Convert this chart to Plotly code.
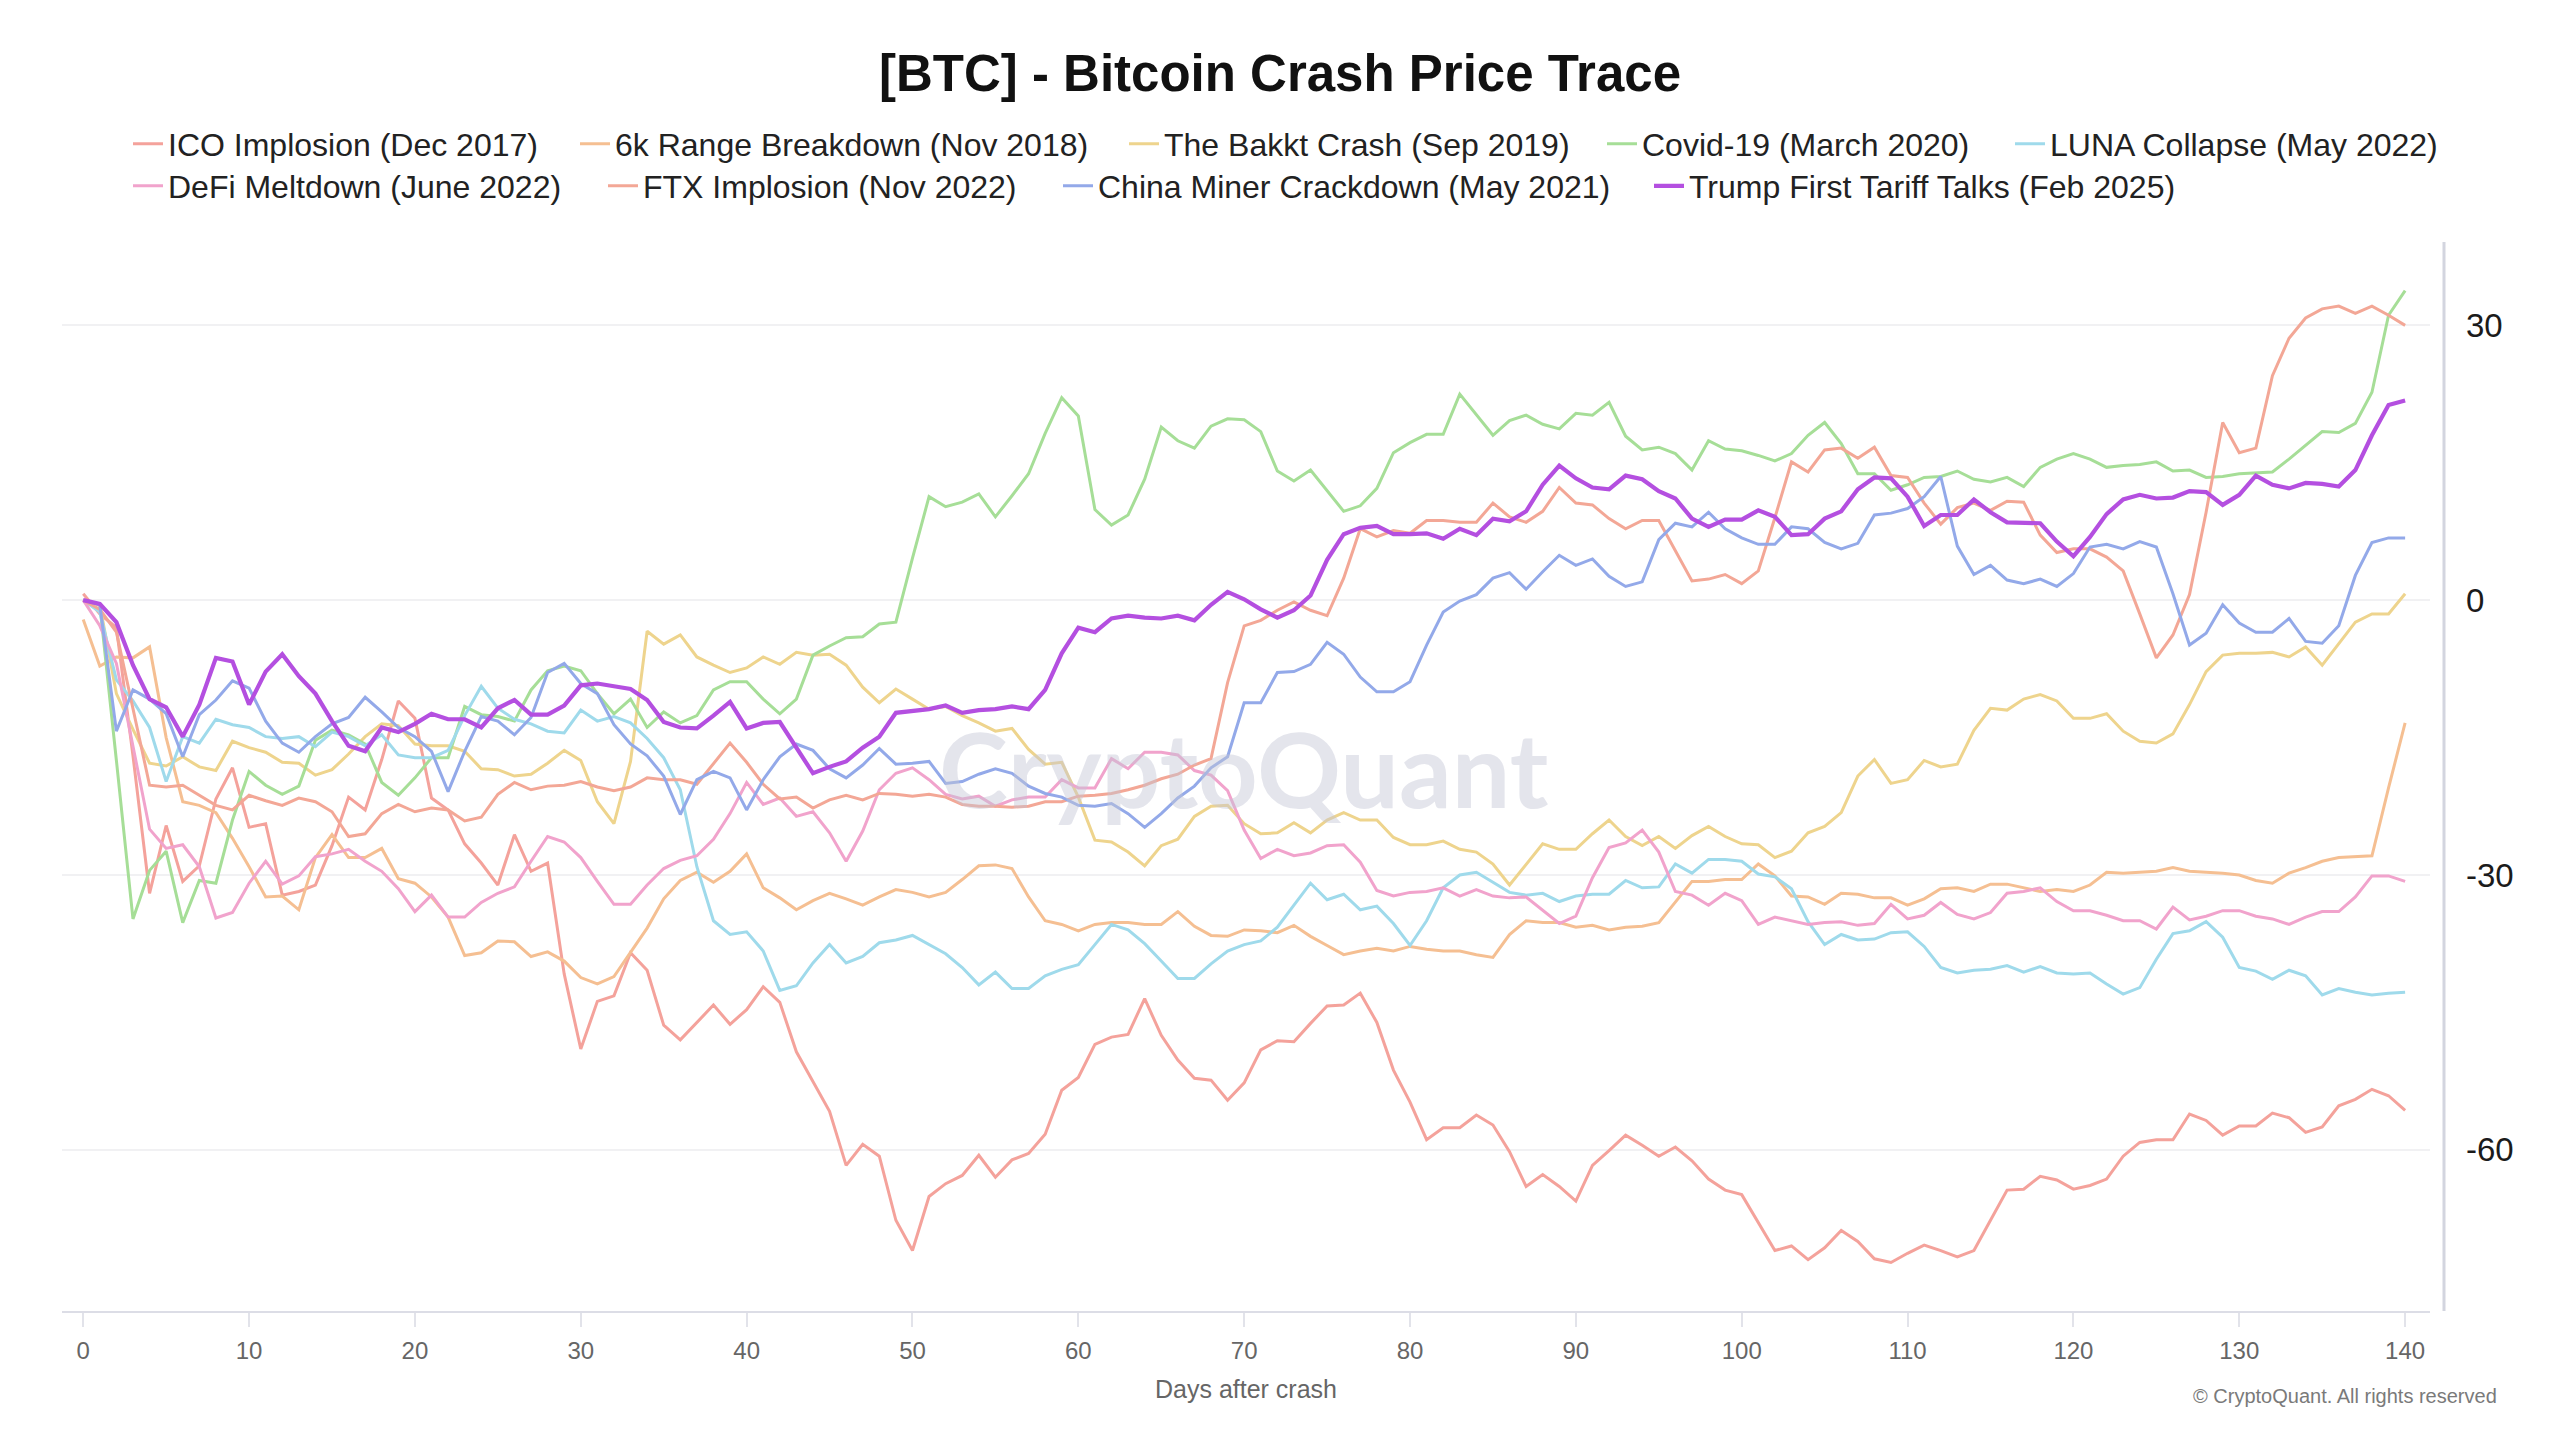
import plotly.graph_objects as go

days = list(range(0, 141))

ico = [0.7, -1.5, -3.0, -17.0, -32.0, -24.6, -30.7, -29.0, -21.7, -18.3,
       -24.8, -24.4, -32.2, -31.8, -31.1, -26.8, -21.5, -22.9, -17.4, -11.0,
       -12.9, -21.6, -22.9, -26.6, -28.7, -31.1, -25.6, -29.6, -28.7, -40.8,
       -49.0, -43.8, -43.2, -38.5, -40.4, -46.4, -48.0, -46.1, -44.2, -46.3,
       -44.7, -42.2, -43.9, -49.3, -52.5, -55.8, -61.7, -59.4, -60.7, -67.7,
       -71.0, -65.1, -63.7, -62.8, -60.6, -63.0, -61.1, -60.4, -58.3, -53.5,
       -52.1, -48.5, -47.7, -47.4, -43.5, -47.5, -50.2, -52.2, -52.4, -54.6,
       -52.7, -49.1, -48.1, -48.2, -46.2, -44.3, -44.2, -42.9, -46.1, -51.3,
       -54.8, -58.9, -57.6, -57.6, -56.2, -57.3, -60.2, -64.0, -62.7, -64.0,
       -65.6, -61.7, -60.1, -58.4, -59.5, -60.7, -59.7, -61.2, -63.2, -64.4,
       -64.9, -67.9, -71.0, -70.5, -72.0, -70.7, -68.8, -70.0, -71.9, -72.3,
       -71.3, -70.4, -71.0, -71.7, -71.0, -67.7, -64.4, -64.3, -62.9, -63.3,
       -64.3, -63.9, -63.2, -60.7, -59.2, -58.9, -58.9, -56.1, -56.8, -58.4,
       -57.4, -57.4, -56.0, -56.5, -58.1, -57.5, -55.2, -54.5, -53.4, -54.1,
       -55.7]

range6k = [-2.1, -7.2, -6.2, -6.3, -5.1, -15.0, -22.0, -22.4, -23.2, -26.0,
           -29.1, -32.4, -32.3, -33.8, -28.1, -25.6, -28.1, -28.1, -27.1, -30.4,
           -30.9, -32.4, -34.6, -38.8, -38.5, -37.2, -37.3, -38.9, -38.4, -39.4,
           -41.2, -41.9, -41.1, -38.5, -35.8, -32.6, -30.6, -29.7, -30.8, -29.6,
           -27.7, -31.4, -32.5, -33.8, -32.8, -32.0, -32.6, -33.3, -32.4, -31.6,
           -31.9, -32.4, -31.9, -30.5, -29.0, -28.9, -29.3, -32.4, -35.0, -35.4,
           -36.1, -35.4, -35.2, -35.2, -35.4, -35.4, -34.0, -35.6, -36.6, -36.7,
           -36.0, -36.1, -36.3, -35.5, -36.7, -37.7, -38.7, -38.3, -38.0, -38.3,
           -37.8, -38.1, -38.3, -38.3, -38.7, -39.0, -36.5, -35.0, -35.2, -35.2,
           -35.7, -35.5, -36.0, -35.7, -35.6, -35.2, -33.0, -30.7, -30.7, -30.5,
           -30.5, -28.8, -30.1, -32.3, -32.4, -33.2, -32.0, -32.1, -32.5, -32.5,
           -33.3, -32.6, -31.5, -31.4, -31.8, -31.0, -31.0, -31.4, -31.8, -31.6,
           -31.8, -31.1, -29.7, -29.8, -29.7, -29.6, -29.2, -29.6, -29.7, -29.8,
           -30.0, -30.6, -30.9, -29.8, -29.2, -28.5, -28.1, -28.0, -27.9, -20.5,
           -13.4]

bakkt = [0.0, -0.5, -10.2, -14.1, -17.8, -18.1, -17.1, -18.2, -18.6, -15.4,
         -16.1, -16.6, -17.7, -17.8, -19.1, -18.5, -16.8, -14.9, -13.5, -13.7,
         -15.7, -15.9, -15.9, -16.5, -18.4, -18.5, -19.2, -19.0, -17.8, -16.4,
         -17.5, -22.0, -24.4, -17.6, -3.4, -4.8, -3.8, -6.2, -7.1, -7.9,
         -7.4, -6.2, -7.0, -5.7, -6.0, -5.9, -7.1, -9.5, -11.2, -9.7,
         -10.8, -11.9, -11.6, -12.6, -13.4, -14.3, -14.0, -16.3, -17.9, -17.7,
         -21.5, -26.2, -26.4, -27.5, -29.0, -26.8, -26.1, -23.6, -22.5, -22.4,
         -24.4, -25.5, -25.4, -24.3, -25.4, -24.0, -23.2, -24.0, -24.0, -25.9,
         -26.7, -26.7, -26.3, -27.2, -27.5, -28.8, -31.1, -28.9, -26.6, -27.2,
         -27.2, -25.5, -24.0, -25.8, -26.8, -25.8, -27.1, -25.7, -24.7, -25.8,
         -26.6, -26.7, -28.1, -27.4, -25.4, -24.7, -23.2, -19.2, -17.4, -20.0,
         -19.6, -17.5, -18.2, -17.9, -14.2, -11.8, -12.0, -10.8, -10.3, -11.0,
         -12.9, -12.9, -12.4, -14.3, -15.4, -15.6, -14.6, -11.4, -7.8, -6.0,
         -5.8, -5.8, -5.7, -6.2, -5.1, -7.1, -4.7, -2.4, -1.5, -1.5,
         0.7]

covid = [0.0, -0.5, -17.5, -34.8, -29.5, -27.4, -35.2, -30.6, -30.9, -24.0,
         -18.7, -20.2, -21.2, -20.3, -15.3, -14.2, -14.7, -15.7, -19.9, -21.3,
         -19.4, -17.2, -17.2, -11.6, -12.5, -12.7, -13.2, -9.8, -7.7, -7.2,
         -7.7, -10.2, -12.4, -10.8, -13.9, -12.2, -13.4, -12.6, -9.8, -8.9,
         -8.9, -10.8, -12.4, -10.8, -6.0, -5.0, -4.1, -4.0, -2.6, -2.4,
         4.6, 11.3, 10.2, 10.7, 11.6, 9.1, 11.4, 13.8, 18.2, 22.1,
         20.1, 9.9, 8.2, 9.3, 13.2, 18.9, 17.4, 16.6, 19.0, 19.8,
         19.7, 18.4, 14.1, 13.0, 14.2, 11.9, 9.7, 10.3, 12.2, 16.1,
         17.2, 18.1, 18.1, 22.5, 20.2, 18.0, 19.6, 20.2, 19.2, 18.7,
         20.4, 20.2, 21.6, 17.9, 16.4, 16.7, 16.0, 14.2, 17.4, 16.5,
         16.3, 15.8, 15.2, 16.0, 18.0, 19.4, 17.1, 13.8, 13.8, 12.0,
         12.6, 13.4, 13.5, 14.1, 13.2, 12.9, 13.4, 12.4, 14.5, 15.4,
         16.0, 15.4, 14.5, 14.7, 14.8, 15.1, 14.1, 14.2, 13.4, 13.5,
         13.8, 13.9, 14.0, 15.4, 16.9, 18.4, 18.3, 19.3, 22.7, 31.1,
         33.8]

luna = [0.0, -1.3, -8.7, -11.0, -13.9, -19.8, -14.9, -15.6, -13.0, -13.6,
        -13.9, -14.9, -15.1, -14.9, -16.0, -14.4, -14.9, -15.9, -14.7, -16.9,
        -17.2, -17.2, -16.4, -12.6, -9.4, -11.8, -13.0, -13.5, -14.3, -14.5,
        -12.0, -13.2, -12.7, -13.4, -15.1, -17.2, -20.7, -29.1, -35.0, -36.5,
        -36.2, -38.3, -42.6, -42.1, -39.6, -37.6, -39.6, -38.9, -37.4, -37.1,
        -36.6, -37.6, -38.6, -40.1, -42.0, -40.6, -42.4, -42.4, -41.0, -40.3,
        -39.8, -37.6, -35.4, -36.0, -37.5, -39.4, -41.3, -41.3, -39.7, -38.3,
        -37.6, -37.2, -35.7, -33.3, -30.9, -32.7, -32.1, -33.8, -33.4, -35.3,
        -37.7, -35.0, -31.4, -30.0, -29.7, -30.8, -31.9, -32.2, -32.0, -32.9,
        -32.3, -32.1, -32.1, -30.6, -31.4, -31.3, -28.8, -29.8, -28.3, -28.3,
        -28.5, -29.9, -30.2, -31.5, -35.1, -37.6, -36.5, -37.1, -37.0, -36.3,
        -36.2, -37.8, -40.1, -40.7, -40.4, -40.3, -39.9, -40.6, -40.0, -40.7,
        -40.8, -40.7, -41.9, -43.0, -42.3, -39.2, -36.4, -36.1, -35.1, -36.8,
        -40.1, -40.5, -41.4, -40.4, -41.0, -43.1, -42.4, -42.8, -43.1, -42.9,
        -42.8]

defi = [0.0, -2.8, -6.9, -16.0, -25.0, -27.1, -26.7, -29.1, -34.7, -34.1,
        -30.9, -28.5, -31.0, -30.1, -28.0, -27.7, -27.2, -28.5, -29.6, -31.5,
        -34.0, -32.2, -34.6, -34.6, -33.0, -32.0, -31.3, -28.5, -25.8, -26.4,
        -28.1, -30.7, -33.2, -33.2, -31.1, -29.3, -28.4, -27.9, -26.1, -23.3,
        -19.9, -22.3, -21.6, -23.6, -23.1, -25.4, -28.5, -25.2, -20.7, -18.9,
        -18.3, -19.6, -21.2, -21.7, -21.4, -22.5, -21.8, -21.5, -21.5, -19.6,
        -20.5, -20.5, -17.3, -18.4, -16.6, -16.6, -16.9, -18.6, -19.1, -20.8,
        -25.1, -28.2, -27.2, -27.9, -27.6, -26.8, -26.7, -28.6, -31.7, -32.3,
        -31.9, -31.8, -31.4, -32.3, -31.6, -32.3, -32.5, -32.4, -33.8, -35.3,
        -34.5, -30.3, -27.0, -26.5, -25.1, -27.5, -31.8, -32.2, -33.3, -32.0,
        -32.8, -35.4, -34.6, -35.0, -35.4, -35.2, -35.1, -35.5, -35.3, -33.2,
        -34.8, -34.4, -33.0, -34.3, -34.8, -34.1, -32.0, -31.8, -31.4, -32.9,
        -33.9, -33.9, -34.4, -35.0, -35.0, -35.9, -33.5, -34.9, -34.5, -33.9,
        -33.9, -34.5, -34.8, -35.4, -34.6, -34.0, -34.0, -32.4, -30.1, -30.1,
        -30.7]

ftx = [0.0, -1.0, -3.5, -12.0, -20.2, -20.4, -20.2, -21.3, -22.4, -22.9,
       -21.3, -21.9, -22.4, -21.6, -22.0, -23.1, -25.8, -25.5, -23.3, -22.3,
       -23.1, -22.7, -22.9, -24.1, -23.7, -21.2, -19.9, -20.7, -20.3, -20.2,
       -19.8, -20.4, -20.8, -20.4, -19.4, -19.6, -19.6, -20.1, -17.8, -15.6,
       -17.7, -20.1, -21.7, -21.5, -22.7, -21.8, -21.3, -21.8, -21.1, -21.2,
       -21.4, -21.2, -21.5, -22.3, -22.5, -22.5, -22.6, -22.5, -22.0, -22.0,
       -21.4, -21.3, -21.1, -20.7, -20.2, -19.5, -19.0, -18.0, -17.3, -9.0,
       -2.8, -2.2, -1.1, -0.2, -1.1, -1.7, 2.4, 7.8, 6.9, 7.6,
       7.3, 8.7, 8.7, 8.5, 8.5, 10.6, 9.1, 8.5, 9.7, 12.3,
       10.6, 10.4, 8.9, 7.8, 8.7, 8.7, 5.4, 2.1, 2.3, 2.8,
       1.8, 3.2, 9.0, 15.1, 14.0, 16.4, 16.6, 15.5, 16.7, 13.6,
       13.4, 10.6, 8.3, 10.1, 10.6, 9.8, 10.8, 10.7, 7.1, 5.2,
       5.6, 5.6, 4.7, 3.2, -1.5, -6.3, -3.8, 0.6, 9.6, 19.4,
       16.1, 16.6, 24.5, 28.6, 30.8, 31.8, 32.1, 31.3, 32.1, 31.1,
       30.0]

china = [0.0, -0.5, -14.3, -9.8, -10.8, -12.4, -17.1, -12.5, -10.9, -8.8,
         -9.6, -13.2, -15.6, -16.6, -14.9, -13.5, -12.8, -10.6, -12.2, -13.9,
         -14.9, -16.5, -20.9, -16.5, -12.7, -13.2, -14.7, -12.8, -7.9, -6.9,
         -9.1, -10.2, -13.6, -15.7, -17.0, -19.2, -23.4, -19.6, -18.7, -19.4,
         -22.9, -19.6, -17.1, -15.7, -16.4, -18.4, -19.4, -18.0, -16.2, -17.9,
         -17.8, -17.6, -20.0, -19.8, -19.0, -18.4, -18.9, -20.3, -21.1, -21.5,
         -22.4, -22.5, -22.2, -23.3, -24.8, -23.3, -21.6, -20.3, -18.3, -17.1,
         -11.2, -11.2, -7.9, -7.8, -7.0, -4.6, -5.9, -8.4, -10.0, -10.0,
         -8.9, -4.9, -1.3, -0.1, 0.6, 2.4, 3.0, 1.2, 3.1, 4.9,
         3.8, 4.5, 2.6, 1.5, 2.0, 6.6, 8.4, 8.0, 9.6, 7.8,
         6.8, 6.1, 6.1, 8.0, 7.8, 6.3, 5.6, 6.2, 9.3, 9.5,
         10.0, 11.3, 13.5, 5.9, 2.8, 3.8, 2.2, 1.8, 2.3, 1.5,
         2.9, 5.8, 6.1, 5.6, 6.4, 5.8, 0.7, -4.9, -3.6, -0.5,
         -2.5, -3.5, -3.5, -2.0, -4.5, -4.7, -2.8, 2.7, 6.3, 6.8,
         6.8]

trump = [0.0, -0.4, -2.4, -7.1, -10.8, -11.7, -14.9, -11.4, -6.3, -6.7,
         -11.4, -7.8, -5.9, -8.3, -10.2, -13.2, -15.9, -16.5, -13.9, -14.4,
         -13.5, -12.4, -13.0, -13.0, -13.9, -11.8, -10.9, -12.5, -12.5, -11.5,
         -9.3, -9.1, -9.4, -9.7, -10.9, -13.3, -13.9, -14.0, -12.6, -11.1,
         -14.0, -13.4, -13.3, -16.1, -18.9, -18.2, -17.6, -16.1, -14.9, -12.3,
         -12.1, -11.9, -11.5, -12.3, -12.0, -11.9, -11.6, -11.9, -9.8, -5.8,
         -3.0, -3.5, -2.0, -1.7, -1.9, -2.0, -1.7, -2.2, -0.5, 0.9,
         0.1, -1.0, -1.9, -1.1, 0.5, 4.4, 7.2, 7.9, 8.1, 7.2,
         7.2, 7.3, 6.7, 7.8, 7.1, 8.9, 8.6, 9.7, 12.6, 14.7,
         13.3, 12.3, 12.1, 13.6, 13.2, 11.9, 11.1, 8.9, 8.0, 8.8,
         8.8, 9.8, 9.1, 7.1, 7.2, 8.9, 9.7, 12.1, 13.4, 13.3,
         11.3, 8.1, 9.3, 9.3, 11.0, 9.6, 8.5, 8.5, 8.4, 6.4,
         4.8, 6.9, 9.4, 11.0, 11.5, 11.1, 11.2, 11.9, 11.8, 10.4,
         11.5, 13.6, 12.6, 12.2, 12.8, 12.7, 12.4, 14.2, 18.0, 21.3,
         21.8]

series_names = ["ICO Implosion (Dec 2017)", "6k Range Breakdown (Nov 2018)",
                "The Bakkt Crash (Sep 2019)", "Covid-19 (March 2020)",
                "LUNA Collapse (May 2022)", "DeFi Meltdown (June 2022)",
                "FTX Implosion (Nov 2022)", "China Miner Crackdown (May 2021)",
                "Trump First Tariff Talks (Feb 2025)"]
series_values = [ico, range6k, bakkt, covid, luna, defi, ftx, china, trump]
series_colors = ["#F4A29B", "#F5BF92", "#EED48D", "#A6DE97", "#9FDAEB",
                 "#F1A3CC", "#F3A796", "#93A9E9", "#B44FE0"]
x_ticks = list(range(0, 141, 10))
y_ticks = [-60, -30, 0, 30]

# layout geometry (pixels)
W, H = 2560, 1440
ML, MR, MT, MB = 62, 130, 242, 129
GW = W - ML - MR
GH = H - MT - MB

# legend item positions: (text start x px, row center y px)
legend_pos = [(168, 144), (615, 144), (1164, 144), (1642, 144), (2050, 144),
              (168, 186), (643, 186), (1098, 186), (1689, 186)]

fig = go.Figure()
for i, (name, vals, col) in enumerate(zip(series_names, series_values, series_colors)):
    lg = "legend" if i == 0 else f"legend{i + 1}"
    fig.add_trace(go.Scatter(
        x=days, y=vals, mode="lines", name=name,
        line=dict(color=col, width=4.2 if i == 8 else 3),
        legend=lg, hoverinfo="skip"))

layout_legends = {}
for i, (tx, ty) in enumerate(legend_pos):
    key = "legend" if i == 0 else f"legend{i + 1}"
    layout_legends[key] = dict(
        x=(tx - 40 - ML) / GW, y=(H - MB - ty) / GH,
        xanchor="left", yanchor="middle", orientation="h",
        bgcolor="rgba(0,0,0,0)", borderwidth=0,
        font=dict(family="Liberation Sans, Arial, sans-serif", size=32, color="#222222"))

fig.update_layout(
    width=W, height=H,
    margin=dict(l=ML, r=MR, t=MT, b=MB),
    paper_bgcolor="white", plot_bgcolor="white",
    font=dict(family="Liberation Sans, Arial, sans-serif"),
    title=dict(text="[BTC] - Bitcoin Crash Price Trace", x=0.5, xref="container",
               xanchor="center", y=1 - 73 / H, yref="container", yanchor="middle",
               font=dict(size=51, color="#111111", weight=700,
                         family="Liberation Sans, Arial, sans-serif")),
    showlegend=True,
    **layout_legends,
)

fig.update_xaxes(
    range=[-1.28, 141.5], tickvals=x_ticks, ticktext=[str(v) for v in x_ticks],
    showgrid=False, zeroline=False,
    showline=True, linecolor="#DCDDE6", linewidth=2,
    ticks="outside", ticklen=14, tickwidth=1.5, tickcolor="#E2E3EA",
    tickfont=dict(size=24, color="#666666"), ticklabelstandoff=3,
    title=dict(text="Days after crash", font=dict(size=25, color="#666666"), standoff=18),
)
fig.update_yaxes(
    range=[-77.6, 39.1], tickvals=y_ticks, ticktext=[str(v) for v in y_ticks],
    side="right", showgrid=True, gridcolor="#F1F1F3", gridwidth=1.5,
    zeroline=False, showline=False, ticks="",
    tickfont=dict(size=33, color="#1B1B1B"), ticklabelstandoff=35,
)

# right-side axis rule
fig.add_shape(type="line", xref="paper", yref="paper",
              x0=(2444 - ML) / GW, x1=(2444 - ML) / GW, y0=0, y1=1,
              line=dict(color="#D3D5DF", width=3))

# watermark
fig.add_annotation(text="CryptoQuant", xref="paper", yref="paper",
                   x=(1244 - ML) / GW, y=(H - MB - 767) / GH,
                   xanchor="center", yanchor="middle", showarrow=False,
                   font=dict(size=104, color="rgba(196,198,212,0.45)",
                             family="Lato, Liberation Sans, sans-serif", weight=700))

# copyright
fig.add_annotation(text="© CryptoQuant. All rights reserved", xref="paper", yref="paper",
                   x=(2499 - ML) / GW, y=(H - MB - 1396) / GH,
                   xanchor="right", yanchor="middle", showarrow=False,
                   font=dict(size=20, color="#7A7A7A"))

fig.write_html("out.html")
